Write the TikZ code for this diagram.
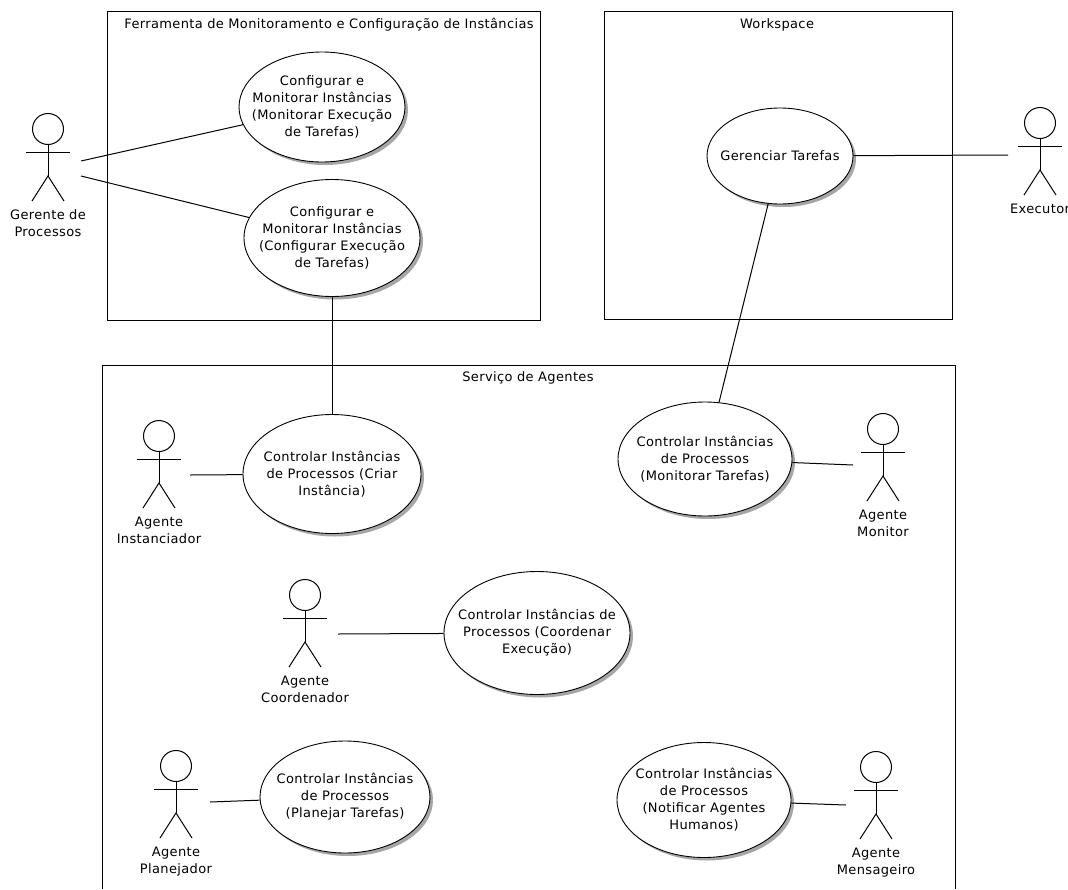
\documentclass[tikz,border=0pt]{standalone}
\usepackage{fontspec}
\setmainfont[LetterSpace=2.8]{DejaVu Sans}
\usetikzlibrary{shapes.geometric,shadows}

\tikzset{
    caso/.style={ellipse, draw, fill=white, inner sep=-30pt, align=center, line width=0.9pt,
        drop shadow={shadow xshift=3pt, shadow yshift=-3pt, fill=black!35, opacity=1}},
    sistema/.style={line width=0.95pt},
    ligacao/.style={line width=1pt},
    boneco/.style={line width=1pt}
}

% #1 name, #2 x of head, #3 y of head, #4 label
\newcommand{\ator}[4]{
    \node[circle, draw, boneco, minimum size=31pt, inner sep=0pt] (#1) at (#2,#3) {};
    \coordinate (#1hip) at (#2,#3+47);
    \draw[boneco] (#1.south) -- (#1hip);
    \draw[boneco] (#2-22,#3+23) -- (#2+22,#3+23);
    \draw[boneco] (#2-16,#3+72) -- (#1hip) -- (#2+16,#3+72);
    \node[anchor=north, align=center, inner sep=0pt] (#1label) at (#2,#3+80.5) {#4};
}

\begin{document}
\begin{tikzpicture}[x=1pt, y=-1pt, font=\fontsize{13}{17}\selectfont]
    \useasboundingbox (0,0) rectangle (1068,889);

    % System boundaries
    \draw[sistema] (107,11) rectangle (540,320);
    \draw[sistema] (604,11) rectangle (952,319);
    \draw[sistema] (102,889) -- (102,365) -- (955,365) -- (955,889);

    \node (ferramentaTitulo) at (329,25) {Ferramenta de Monitoramento e Configuração de Instâncias};
    \node (workspaceTitulo) at (777,25) {Workspace};
    \node (servicoTitulo) at (528,378) {Serviço de Agentes};

    % Use cases
    \node[caso, minimum width=166pt, minimum height=110pt] (monitorarExec) at (322,107)
        {Configurar e\\Monitorar Instâncias\\(Monitorar Execução\\de Tarefas)};
    \node[caso, minimum width=176pt, minimum height=117pt] (configurarExec) at (332,238)
        {Configurar e\\Monitorar Instâncias\\(Configurar Execução\\de Tarefas)};
    \node[caso, minimum width=146pt, minimum height=96pt] (gerenciar) at (780,156)
        {Gerenciar Tarefas};
    \node[caso, minimum width=178pt, minimum height=119pt] (criar) at (332,474)
        {Controlar Instâncias\\de Processos (Criar\\Instância)};
    \node[caso, minimum width=174pt, minimum height=114pt] (monitorarTar) at (705,459)
        {Controlar Instâncias\\de Processos\\(Monitorar Tarefas)};
    \node[caso, minimum width=186pt, minimum height=123pt] (coordenar) at (537,633)
        {Controlar Instâncias de\\Processos (Coordenar\\Execução)};
    \node[caso, minimum width=170pt, minimum height=112pt] (planejar) at (345,797)
        {Controlar Instâncias\\de Processos\\(Planejar Tarefas)};
    \node[caso, minimum width=174pt, minimum height=115pt] (notificar) at (704,800)
        {Controlar Instâncias\\de Processos\\(Notificar Agentes\\Humanos)};

    % Actors
    \ator{gerente}{48}{129}{Gerente de\\Processos}
    \ator{executor}{1040}{123}{Executor}
    \ator{instanciador}{159}{436}{Agente\\Instanciador}
    \ator{monitor}{883}{429}{Agente\\Monitor}
    \ator{coordenador}{305}{595}{Agente\\Coordenador}
    \ator{planejador}{176}{766}{Agente\\Planejador}
    \ator{mensageiro}{876}{767}{Agente\\Mensageiro}

    % Free ends next to the actors
    \coordinate (gerenteA) at (81,161);
    \coordinate (gerenteB) at (81,176);
    \coordinate (executorA) at (1008,155);
    \coordinate (instanciadorA) at (190,475);
    \coordinate (monitorA) at (853,465);
    \coordinate (coordenadorA) at (338,634);
    \coordinate (planejadorA) at (210,802);
    \coordinate (mensageiroA) at (846,805);

    % Associations
    \draw[ligacao] (gerenteA) -- (monitorarExec);
    \draw[ligacao] (gerenteB) -- (configurarExec);
    \draw[ligacao] (executorA) -- (gerenciar);
    \draw[ligacao] (gerenciar) -- (monitorarTar);
    \draw[ligacao] (configurarExec) -- (criar);
    \draw[ligacao] (instanciadorA) -- (criar);
    \draw[ligacao] (monitorA) -- (monitorarTar);
    \draw[ligacao] (coordenadorA) -- (coordenar);
    \draw[ligacao] (planejadorA) -- (planejar);
    \draw[ligacao] (mensageiroA) -- (notificar);
\end{tikzpicture}
\end{document}
